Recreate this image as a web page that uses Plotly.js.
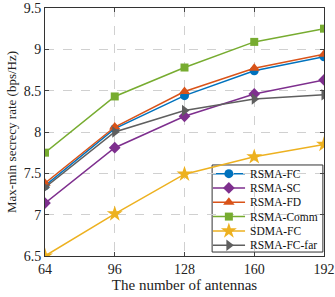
<!DOCTYPE html>
<html><head><meta charset="utf-8">
<script src="https://cdn.plot.ly/plotly-3.0.1.min.js"></script>
<style>body{margin:0;padding:0;background:#fff}#c{width:335px;height:297px}</style>
</head><body><div id="c"></div>
<script>
const antennas = [64, 96, 128, 160, 192];
const rsmaFC = [7.35, 8.04, 8.44, 8.74, 8.91];
const rsmaSC = [7.14, 7.81, 8.19, 8.46, 8.63];
const rsmaFD = [7.38, 8.06, 8.49, 8.77, 8.94];
const rsmaComm = [7.75, 8.43, 8.78, 9.09, 9.25];
const sdmaFC = [6.5, 7.01, 7.49, 7.70, 7.85];
const rsmaFCfar = [7.33, 8.00, 8.26, 8.40, 8.45];
const names = ['RSMA-FC','RSMA-SC','RSMA-FD','RSMA-Comm','SDMA-FC','RSMA-FC-far'];
const series = [rsmaFC, rsmaSC, rsmaFD, rsmaComm, sdmaFC, rsmaFCfar];
const colors = ['#0072BD','#7E2F8E','#D95319','#77AC30','#EDB120','#5f5f5f'];
const symbols = ['circle','diamond','triangle-up','square','star','triangle-right'];
const sizes = [9,9,10,8,12,10];
const serif = 'Liberation Serif, Times New Roman, serif';

const traces = series.map((y,i)=>({
  x: antennas, y: y, name: names[i], type:'scatter', mode:'lines+markers',
  line:{color:colors[i], width:1.5},
  marker:{symbol:symbols[i], size:sizes[i], color:colors[i]}, showlegend:false
}));

// compact legend (MATLAB style) on an overlay axis spanning the plot area
const L = {x0:0.599, x1:0.996, y0:0.016, y1:0.367, lx0:0.602, lx1:0.717, mx:0.659, tx:0.728, top:0.332, step:0.0577};
const shapes = [{type:'rect', xref:'paper', yref:'paper', x0:L.x0, x1:L.x1, y0:L.y0, y1:L.y1,
  fillcolor:'#fff', line:{color:'#333', width:1}, layer:'between'}];
const annotations = [];
names.forEach((n,i)=>{
  const yy = L.top - i*L.step;
  shapes.push({type:'line', xref:'paper', yref:'paper', x0:L.lx0, x1:L.lx1, y0:yy, y1:yy,
    line:{color:colors[i], width:1.5}, layer:'between'});
  traces.push({x:[L.mx], y:[yy], xaxis:'x2', yaxis:'y2', type:'scatter', mode:'markers',
    marker:{symbol:symbols[i], size:sizes[i], color:colors[i]}, showlegend:false, hoverinfo:'skip'});
  annotations.push({xref:'paper', yref:'paper', x:L.tx, y:yy, xanchor:'left', yanchor:'middle',
    text:n, showarrow:false, font:{family:serif, size:11.5, color:'#111'}});
});

const layout = {
  width:335, height:297,
  margin:{l:45, r:11, t:8, b:41},
  paper_bgcolor:'#fff', plot_bgcolor:'#fff',
  font:{family:serif, color:'#222', size:14},
  showlegend:false,
  shapes: shapes, annotations: annotations,
  xaxis:{range:[64,192], tickvals:antennas, ticks:'inside', ticklen:4,
    showline:true, mirror:'ticks', linecolor:'#333', linewidth:1,
    showgrid:true, gridcolor:'#d0d0d0', griddash:'dash', zeroline:false,
    title:{text:'The number of antennas', standoff:2, font:{family:serif,size:15}},
    tickfont:{size:14}},
  yaxis:{range:[6.5,9.5], dtick:0.5, ticks:'inside', ticklen:4,
    showline:true, mirror:'ticks', linecolor:'#333', linewidth:1,
    showgrid:true, gridcolor:'#d0d0d0', griddash:'dash', zeroline:false,
    title:{text:'Max-min secrecy rate (bps/Hz)', standoff:4, font:{family:serif,size:13}},
    tickfont:{size:14}},
  xaxis2:{overlaying:'x', range:[0,1], visible:false, fixedrange:true},
  yaxis2:{overlaying:'y', range:[0,1], visible:false, fixedrange:true}
};
Plotly.newPlot('c', traces, layout, {staticPlot:true, displayModeBar:false});
</script></body></html>
